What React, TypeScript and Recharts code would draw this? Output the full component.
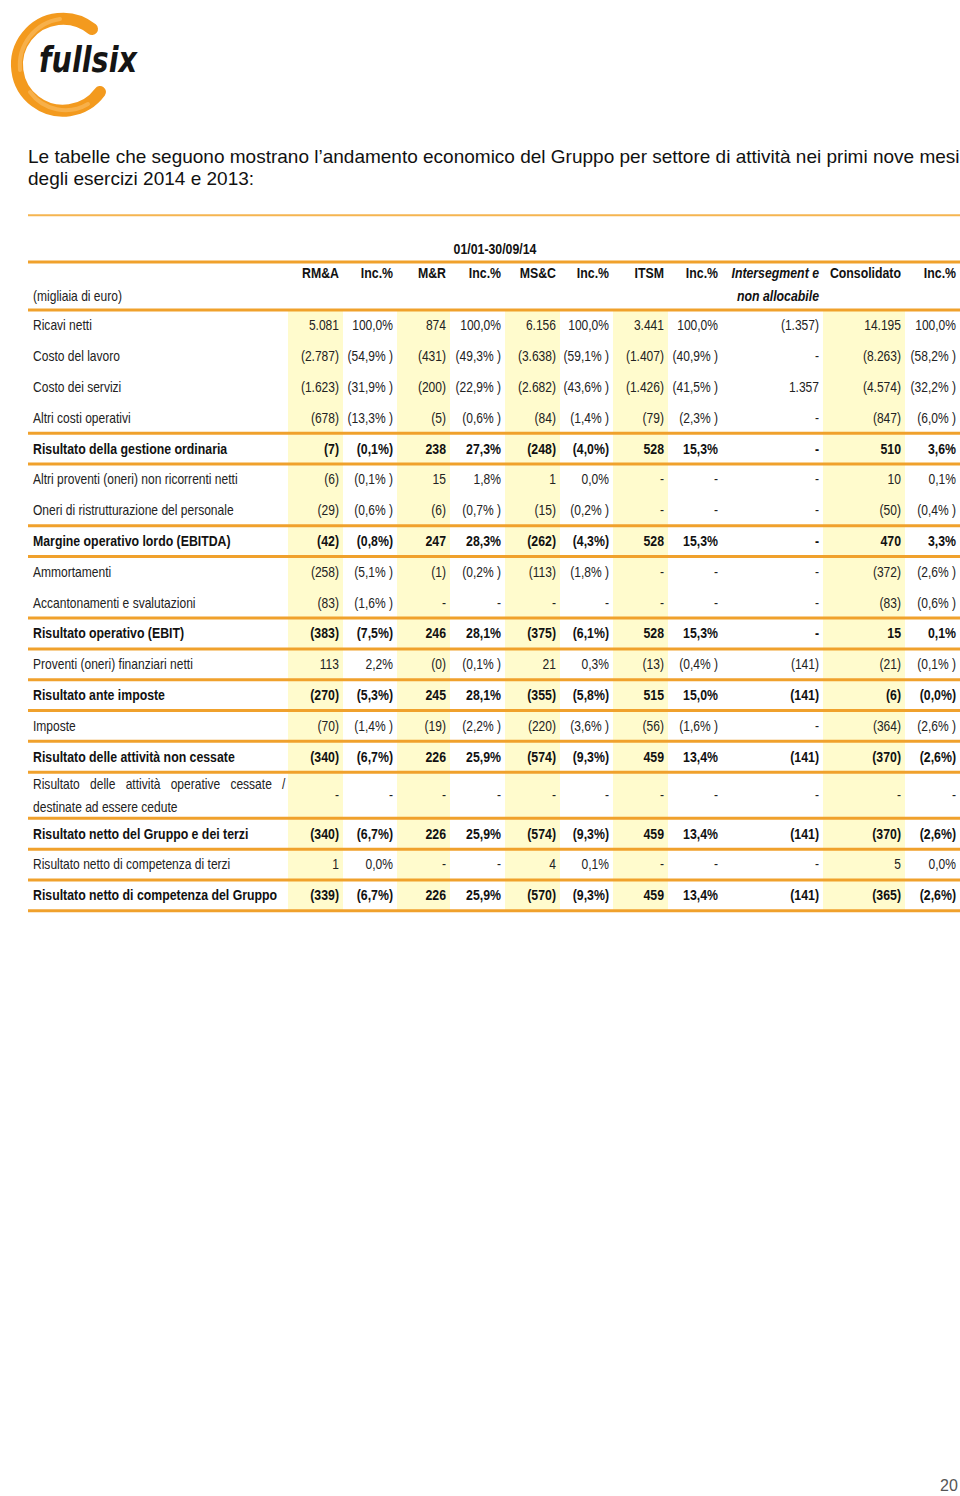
import { ScatterChart, Scatter, XAxis, YAxis, ReferenceArea, ReferenceLine } from 'recharts';

const ROW_LABELS = [
  'Ricavi netti',
  'Costo del lavoro',
  'Costo dei servizi',
  'Altri costi operativi',
  'Risultato della gestione ordinaria',
  'Altri proventi (oneri) non ricorrenti netti',
  'Oneri di ristrutturazione del personale',
  'Margine operativo lordo (EBITDA)',
  'Ammortamenti',
  'Accantonamenti e svalutazioni',
  'Risultato operativo (EBIT)',
  'Proventi (oneri) finanziari netti',
  'Risultato ante imposte',
  'Imposte',
  'Risultato delle attività non cessate',
  'Risultato delle attività operative cessate / destinate ad essere cedute',
  'Risultato netto del Gruppo e dei terzi',
  'Risultato netto di competenza di terzi',
  'Risultato netto di competenza del Gruppo',
];
const BOLD_ROWS = [4, 7, 10, 12, 14, 16, 18];

const RMA = [5081, -2787, -1623, -678, -7, -6, -29, -42, -258, -83, -383, 113, -270, -70, -340, null, -340, 1, -339];
const RMA_INC = [100.0, -54.9, -31.9, -13.3, -0.1, -0.1, -0.6, -0.8, -5.1, -1.6, -7.5, 2.2, -5.3, -1.4, -6.7, null, -6.7, 0.0, -6.7];
const MR = [874, -431, -200, -5, 238, 15, -6, 247, -1, null, 246, -0, 245, -19, 226, null, 226, null, 226];
const MR_INC = [100.0, -49.3, -22.9, -0.6, 27.3, 1.8, -0.7, 28.3, -0.2, null, 28.1, -0.1, 28.1, -2.2, 25.9, null, 25.9, null, 25.9];
const MSC = [6156, -3638, -2682, -84, -248, 1, -15, -262, -113, null, -375, 21, -355, -220, -574, null, -574, 4, -570];
const MSC_INC = [100.0, -59.1, -43.6, -1.4, -4.0, 0.0, -0.2, -4.3, -1.8, null, -6.1, 0.3, -5.8, -3.6, -9.3, null, -9.3, 0.1, -9.3];
const ITSM = [3441, -1407, -1426, -79, 528, null, null, 528, null, null, 528, -13, 515, -56, 459, null, 459, null, 459];
const ITSM_INC = [100.0, -40.9, -41.5, -2.3, 15.3, null, null, 15.3, null, null, 15.3, -0.4, 15.0, -1.6, 13.4, null, 13.4, null, 13.4];
const INTERSEG = [-1357, null, 1357, null, null, null, null, null, null, null, null, -141, -141, null, -141, null, -141, null, -141];
const CONSOL = [14195, -8263, -4574, -847, 510, 10, -50, 470, -372, -83, 15, -21, -6, -364, -370, null, -370, 5, -365];
const CONSOL_INC = [100.0, -58.2, -32.2, -6.0, 3.6, 0.1, -0.4, 3.3, -2.6, -0.6, 0.1, -0.1, -0.0, -2.6, -2.6, null, -2.6, 0.0, -2.6];

const PERIOD = '01/01-30/09/14';
const HEADERS = ['RM&A', 'Inc.%', 'M&R', 'Inc.%', 'MS&C', 'Inc.%', 'ITSM', 'Inc.%', 'Intersegment e', 'Consolidato', 'Inc.%'];
const UNIT_LABEL = '(migliaia di euro)';

// layout
const COL_WIDTHS = [260, 55, 54, 53, 55, 55, 53, 55, 54, 101, 82, 55];
const BAND_COLS = [1, 3, 5, 7, 10];
const TABLE_W = COL_WIDTHS.reduce((a, b) => a + b, 0);
const COL_RIGHT = COL_WIDTHS.map((_, i) => COL_WIDTHS.slice(0, i + 1).reduce((a, b) => a + b, 0));
const ROW_UNITS = ROW_LABELS.map((_, i) => (i === 15 ? 1.5 : 1));
const ROW_TOP = ROW_UNITS.map((_, i) => ROW_UNITS.slice(0, i).reduce((a, b) => a + b, 0));
const ROW_MID = ROW_TOP.map((t, i) => t + ROW_UNITS[i] / 2);
const ROWS_END = ROW_UNITS.reduce((a, b) => a + b, 0);
const Y_MIN = -3.41;
const Y_MAX = 19.8;
const PITCH = 30.8;
const CHART_H = Math.round((Y_MAX - Y_MIN) * PITCH);

const ORANGE = '#F0A12C';
const YELLOW = '#FFFBCD';
const TEXT = '#222';
const FONT = '"Liberation Sans", Arial, sans-serif';
// the source uses a narrow face; squeeze the regular one
const SQUEEZE = 0.86;
const SQUEEZE_BOLD = 0.88;

const fmtNum = (v: number | null) => {
  if (v === null) return '-';
  const neg = v < 0 || Object.is(v, -0);
  const s = String(Math.abs(v)).replace(/\B(?=(\d{3})+(?!\d))/g, '.');
  return neg ? `(${s})` : s;
};
const fmtPct = (v: number | null, bold: boolean) => {
  if (v === null) return '-';
  const neg = v < 0 || Object.is(v, -0);
  const s = Math.abs(v).toFixed(1).replace('.', ',') + '%';
  return neg ? (bold ? `(${s})` : `(${s} )`) : s;
};

const VALUE_COLS: { values: (number | null)[]; pct: boolean }[] = [
  { values: RMA, pct: false },
  { values: RMA_INC, pct: true },
  { values: MR, pct: false },
  { values: MR_INC, pct: true },
  { values: MSC, pct: false },
  { values: MSC_INC, pct: true },
  { values: ITSM, pct: false },
  { values: ITSM_INC, pct: true },
  { values: INTERSEG, pct: false },
  { values: CONSOL, pct: false },
  { values: CONSOL_INC, pct: true },
];

const lineRows = ROW_LABELS.map((_, i) => i).filter(
  (i) => BOLD_ROWS.includes(i) || BOLD_ROWS.includes(i + 1) || i === ROW_LABELS.length - 1
);

const squeeze = (x: number, y: number, bold: boolean) =>
  `translate(${x} ${y}) scale(${bold ? SQUEEZE_BOLD : SQUEEZE} 1)`;

const RightText = (props: any) => {
  const { cx, cy, payload } = props;
  return (
    <text
      transform={squeeze(cx - 4, cy, payload.bold)}
      x={0}
      y={0}
      dy="0.35em"
      textAnchor="end"
      fontFamily={FONT}
      fontSize={14}
      fontWeight={payload.bold ? 'bold' : 'normal'}
      fontStyle={payload.italic ? 'italic' : 'normal'}
      fill={payload.bold ? '#111' : TEXT}
    >
      {payload.text}
    </text>
  );
};

const LabelText = (props: any) => {
  const { cx, cy, payload } = props;
  if (payload.wrap) {
    const words = payload.text.split(' ');
    const first = words.slice(0, 6).join(' ');
    const second = words.slice(6).join(' ');
    return (
      <g transform={squeeze(cx + 5, cy, false)}>
        <text fontFamily={FONT} fontSize={14} fill={TEXT}>
          <tspan x={0} y={-11.5} dy="0.35em" wordSpacing={8}>{first}</tspan>
          <tspan x={0} y={11.5} dy="0.35em">{second}</tspan>
        </text>
      </g>
    );
  }
  return (
    <text
      transform={squeeze(cx + 5, cy, payload.bold)}
      x={0}
      y={0}
      dy="0.35em"
      fontFamily={FONT}
      fontSize={14}
      fontWeight={payload.bold ? 'bold' : 'normal'}
      fill={payload.bold ? '#111' : TEXT}
    >
      {payload.text}
    </text>
  );
};

const CenterText = (props: any) => {
  const { cx, cy, payload } = props;
  return (
    <text
      transform={squeeze(cx, cy, true)}
      x={0}
      y={0}
      dy="0.35em"
      textAnchor="middle"
      fontFamily={FONT}
      fontSize={14}
      fontWeight="bold"
      fill="#111"
    >
      {payload.text}
    </text>
  );
};

const labelData = ROW_LABELS.map((text, i) => ({
  x: 0,
  y: ROW_MID[i],
  text,
  bold: BOLD_ROWS.includes(i),
  wrap: i === 15,
}));

const cellData = VALUE_COLS.flatMap((col, c) =>
  col.values.map((v, i) => {
    const bold = BOLD_ROWS.includes(i);
    return { x: COL_RIGHT[c + 1], y: ROW_MID[i], text: col.pct ? fmtPct(v, bold) : fmtNum(v), bold };
  })
);

const headerData = [
  ...HEADERS.map((text, c) => ({ x: COL_RIGHT[c + 1], y: -1.2, text, bold: true, italic: c === 8 })),
  { x: COL_RIGHT[9], y: -0.45, text: 'non allocabile', bold: true, italic: true },
];

const unitData = [{ x: 0, y: -0.45, text: UNIT_LABEL, bold: false, wrap: false }];
const periodData = [{ x: 467, y: -1.98, text: PERIOD }];

const Logo = () => (
  <svg width={200} height={120} style={{ position: 'absolute', left: 0, top: 0 }}>
    <path d="M 92 29 A 46 46 0 1 0 100 92" stroke="#F39A1E" strokeWidth={12} fill="none" strokeLinecap="round" />
    <path d="M 60 19 A 47 47 0 0 0 20 70" stroke="#F7B04A" strokeWidth={4} fill="none" strokeLinecap="round" />
    <path d="M 30 92 A 44 44 0 0 0 88 104" stroke="#F7B04A" strokeWidth={4} fill="none" strokeLinecap="round" />
    <text
      x={39}
      y={72}
      fontFamily="DejaVu Sans"
      fontWeight="bold"
      fontStyle="italic"
      fontSize={36}
      textLength={98}
      lengthAdjust="spacingAndGlyphs"
      fill="#151515"
    >
      fullsix
    </text>
  </svg>
);

export default function App() {
  return (
    <div style={{ position: 'absolute', left: 0, top: 0, width: 960, height: 1496, background: '#fff' }}>
      <Logo />
      <div
        style={{
          position: 'absolute',
          left: 28,
          top: 146,
          width: 940,
          fontFamily: '"Liberation Sans", Arial, sans-serif',
          fontSize: 19,
          lineHeight: '22px',
          color: '#111',
          whiteSpace: 'nowrap',
        }}
      >
        Le tabelle che seguono mostrano l’andamento economico del Gruppo per settore di attività nei primi nove mesi
        <br />
        degli esercizi 2014 e 2013:
      </div>
      <div style={{ position: 'absolute', left: 28, top: 205 }}>
        <ScatterChart width={TABLE_W} height={CHART_H} margin={{ top: 0, right: 0, bottom: 0, left: 0 }}>
          <XAxis type="number" dataKey="x" domain={[0, TABLE_W]} hide />
          <YAxis type="number" dataKey="y" domain={[Y_MIN, Y_MAX]} reversed hide />
          {BAND_COLS.map((c) => (
            <ReferenceArea
              key={c}
              x1={COL_RIGHT[c - 1]}
              x2={COL_RIGHT[c]}
              y1={0}
              y2={ROWS_END}
              fill={YELLOW}
              fillOpacity={1}
              stroke="none"
            />
          ))}
          <ReferenceLine y={-3.08} stroke="#F5B550" strokeWidth={2} />
          <ReferenceLine y={-1.56} stroke={ORANGE} strokeWidth={3} />
          <ReferenceLine y={0} stroke={ORANGE} strokeWidth={3} />
          {lineRows.map((i) => (
            <ReferenceLine key={i} y={ROW_TOP[i] + ROW_UNITS[i]} stroke={ORANGE} strokeWidth={3} />
          ))}
          <Scatter data={periodData} shape={CenterText} isAnimationActive={false} />
          <Scatter data={unitData} shape={LabelText} isAnimationActive={false} />
          <Scatter data={headerData} shape={RightText} isAnimationActive={false} />
          <Scatter data={labelData} shape={LabelText} isAnimationActive={false} />
          <Scatter data={cellData} shape={RightText} isAnimationActive={false} />
        </ScatterChart>
      </div>
      <div
        style={{
          position: 'absolute',
          left: 940,
          top: 1477,
          fontFamily: '"Liberation Sans", Arial, sans-serif',
          fontSize: 16,
          color: '#555',
        }}
      >
        20
      </div>
    </div>
  );
}
